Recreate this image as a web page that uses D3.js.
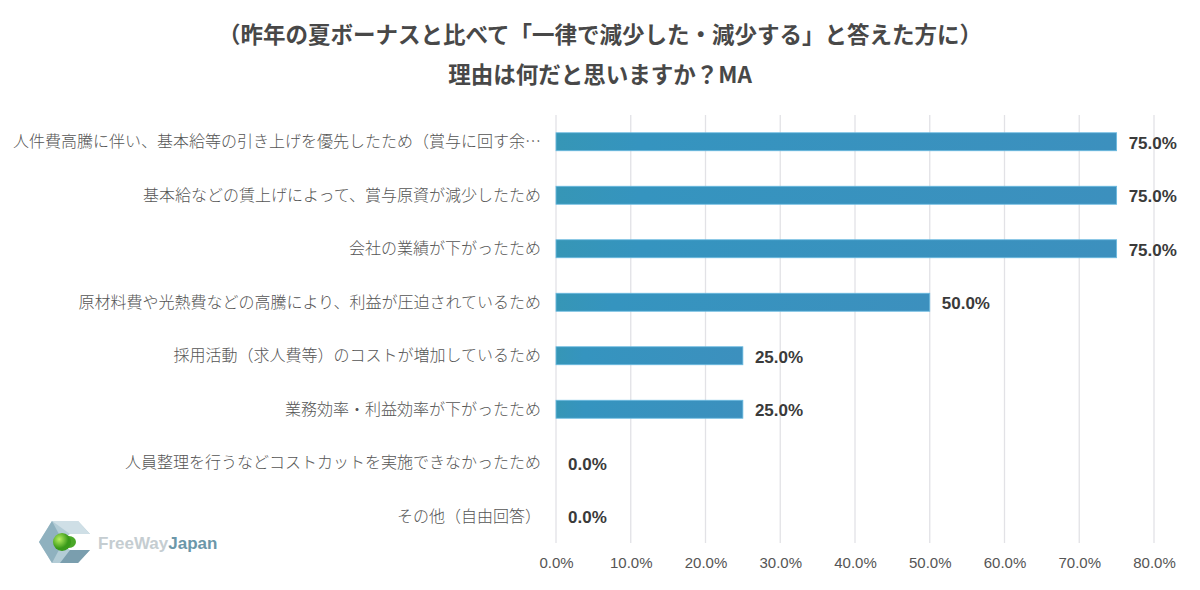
<!DOCTYPE html>
<html>
<head>
<meta charset="utf-8">
<script src="https://cdn.jsdelivr.net/npm/d3@7"></script>
<style>
  html, body { margin: 0; padding: 0; background: #fff; }
  svg { display: block; font-family: "Noto Sans CJK JP", "Noto Sans", sans-serif; }
</style>
</head>
<body>
<svg id="chart"></svg>
<script>
// データ
const titleLines = [
    "（昨年の夏ボーナスと比べて「一律で減少した・減少する」と答えた方に）",
    "理由は何だと思いますか？MA"
];
const categories = [
    "人件費高騰に伴い、基本給等の引き上げを優先したため（賞与に回す余…",
    "基本給などの賃上げによって、賞与原資が減少したため",
    "会社の業績が下がったため",
    "原材料費や光熱費などの高騰により、利益が圧迫されているため",
    "採用活動（求人費等）のコストが増加しているため",
    "業務効率・利益効率が下がったため",
    "人員整理を行うなどコストカットを実施できなかったため",
    "その他（自由回答）"
];
const values = [75.0, 75.0, 75.0, 50.0, 25.0, 25.0, 0.0, 0.0];
const xTicks = [0, 10, 20, 30, 40, 50, 60, 70, 80];

const width = 1200;
const height = 590;
const margin = { top: 115, right: 46, bottom: 47, left: 556 };

const svg = d3.select("#chart")
    .attr("width", width)
    .attr("height", height);

// グラデーション
const defs = svg.append("defs");
const grad = defs.append("linearGradient").attr("id", "barGrad");
grad.append("stop").attr("offset", "0%").attr("stop-color", "#3696b6");
grad.append("stop").attr("offset", "15%").attr("stop-color", "#3594bf");
grad.append("stop").attr("offset", "100%").attr("stop-color", "#3c90be");

// タイトル
svg.selectAll(".title")
    .data(titleLines)
    .enter()
    .append("text")
    .attr("class", "title")
    .attr("x", 600)
    .attr("y", (d, i) => 43 + i * 40)
    .attr("text-anchor", "middle")
    .style("font-size", "22.5px")
    .style("font-weight", "bold")
    .style("fill", "#484848")
    .text(d => d);

const x = d3.scaleLinear()
    .domain([0, 80])
    .range([margin.left, width - margin.right]);

const y = d3.scaleBand()
    .domain(categories)
    .range([margin.top, height - margin.bottom]);

const barH = 18;

// グリッド線
svg.append("g")
    .selectAll("line")
    .data(xTicks)
    .enter()
    .append("line")
    .attr("x1", d => x(d))
    .attr("x2", d => x(d))
    .attr("y1", margin.top)
    .attr("y2", height - margin.bottom)
    .attr("stroke", "#e2e2e6")
    .attr("stroke-width", 1.3);

// X軸ラベル
svg.append("g")
    .attr("transform", `translate(0, ${height - margin.bottom})`)
    .call(d3.axisBottom(x).tickValues(xTicks).tickSize(0).tickPadding(14).tickFormat(d => d.toFixed(1) + "%"))
    .call(g => g.select(".domain").remove())
    .selectAll("text")
    .style("font-family", "'Liberation Sans', Arial, sans-serif")
    .style("font-size", "15px")
    .style("fill", "#555");

// カテゴリラベル
svg.append("g")
    .selectAll("text")
    .data(categories)
    .enter()
    .append("text")
    .attr("x", margin.left - 15)
    .attr("y", d => y(d) + y.bandwidth() / 2)
    .attr("dy", "0.35em")
    .attr("text-anchor", "end")
    .style("font-size", "16px")
    .style("font-weight", 300)
    .style("fill", "#555")
    .text(d => d);

// 棒
const rows = categories.map((c, i) => ({ c, v: values[i] }));

svg.append("g")
    .selectAll("rect")
    .data(rows.filter(d => d.v > 0))
    .enter()
    .append("rect")
    .attr("x", x(0))
    .attr("y", d => y(d.c) + y.bandwidth() / 2 - barH / 2)
    .attr("width", d => x(d.v) - x(0))
    .attr("height", barH)
    .attr("fill", "url(#barGrad)")
    .attr("stroke", "#6bbbe0")
    .attr("stroke-width", 0.8);

// 値ラベル
svg.append("g")
    .selectAll("text")
    .data(rows)
    .enter()
    .append("text")
    .attr("x", d => x(d.v) + 12)
    .attr("y", d => y(d.c) + y.bandwidth() / 2)
    .attr("dy", "0.4em")
    .style("font-family", "'Liberation Sans', Arial, sans-serif")
    .style("font-size", "17px")
    .style("font-weight", "bold")
    .style("fill", "#3a3a3a")
    .text(d => d.v.toFixed(1) + "%");

// ロゴ
const logo = svg.append("g").attr("transform", "translate(64, 542)");
logo.append("path")
    .attr("d", "M-25,0 L-12,-21 L14,-21 L26,-8 L6,-8 L-3,-2 L-3,2 L6,8 L26,8 L14,21 L-12,21 Z")
    .attr("fill", "#b3ccd6");
logo.append("path")
    .attr("d", "M-25,0 L-12,-21 L-3,-4 L-3,4 L-12,21 Z")
    .attr("fill", "#8fb1bf");
logo.append("path")
    .attr("d", "M6,8 L26,8 L14,21 L-4,21 Z")
    .attr("fill", "#7a9eae");
logo.append("path")
    .attr("d", "M-12,-21 L14,-21 L26,-8 L6,-8 Z")
    .attr("fill", "#cfdfe6");
const ballGrad = defs.append("radialGradient").attr("id", "ball").attr("cx", "35%").attr("cy", "35%");
ballGrad.append("stop").attr("offset", "0%").attr("stop-color", "#b8f060");
ballGrad.append("stop").attr("offset", "100%").attr("stop-color", "#3a9a1a");
logo.append("ellipse")
    .attr("cx", 5).attr("cy", 0).attr("rx", 7).attr("ry", 6)
    .attr("fill", "#4aa828");
logo.append("circle")
    .attr("cx", -2).attr("cy", 0).attr("r", 9)
    .attr("fill", "url(#ball)");

const logoText = svg.append("text")
    .attr("x", 98)
    .attr("y", 549)
    .style("font-family", "'Liberation Sans', Arial, sans-serif")
    .style("font-size", "17px")
    .style("font-weight", "bold");
logoText.append("tspan").style("fill", "#c5cdd1").text("FreeWay");
logoText.append("tspan").style("fill", "#6c97a9").text("Japan");
</script>
</body>
</html>
